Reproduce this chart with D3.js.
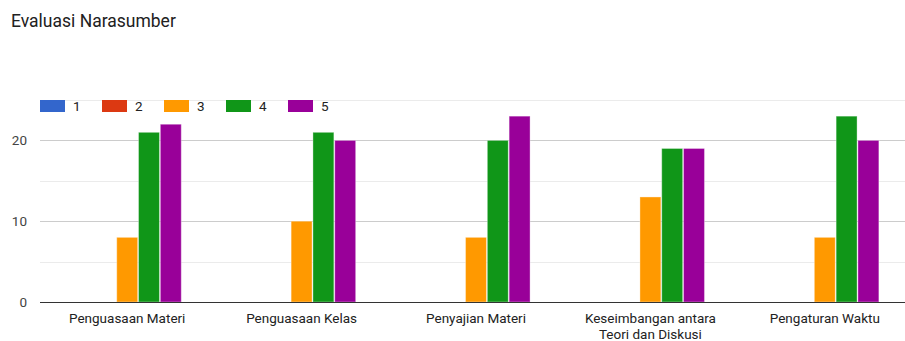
<!DOCTYPE html>
<html>
<head>
<meta charset="utf-8">
<script src="https://cdn.jsdelivr.net/npm/d3@7"></script>
<style>
  body { margin: 0; background: #fff; }
  svg { font-family: Roboto, Arial, sans-serif; }
</style>
</head>
<body>
<div id="chart"></div>
<script>
'use strict';

// Data
const categories = [
    ['Penguasaan Materi'],
    ['Penguasaan Kelas'],
    ['Penyajian Materi'],
    ['Keseimbangan antara', 'Teori dan Diskusi'],
    ['Pengaturan Waktu']
];
const seriesNames = ['1', '2', '3', '4', '5'];
const seriesColors = ['#3366cc', '#dc3912', '#ff9900', '#109618', '#990099'];
const values1 = [0, 0, 0, 0, 0];
const values2 = [0, 0, 0, 0, 0];
const values3 = [8, 10, 8, 13, 8];
const values4 = [21, 21, 20, 19, 23];
const values5 = [22, 20, 23, 19, 20];
const yTicks = [0, 10, 20];
const yGrid = [5, 15, 25];

const seriesValues = [values1, values2, values3, values4, values5];

const w = 905,
      h = 341;
const margin = {top: 100, bottom: 39, left: 40};
const plotRight = 912;   // plot area runs a little past the window edge

const svg = d3.select('#chart').append('svg')
    .attr('width', w)
    .attr('height', h);

// Title
svg.append('text')
    .attr('x', 11)
    .attr('y', 27)
    .attr('font-size', 17.5)
    .attr('fill', '#212121')
    .text('Evaluasi Narasumber');

const x0 = d3.scaleBand()
    .domain(d3.range(categories.length))
    .range([margin.left, plotRight])
    .paddingInner(0.38)
    .paddingOuter(0.19);

const x1 = d3.scaleBand()
    .domain(d3.range(seriesNames.length))
    .range([0, x0.bandwidth()])
    .paddingInner(0.04);

const y = d3.scaleLinear()
    .domain([0, 25])
    .range([h - margin.bottom, margin.top]);

// Gridlines
svg.append('g').selectAll('line.minor')
    .data(yGrid)
    .enter()
    .append('line')
    .attr('x1', margin.left)
    .attr('x2', w)
    .attr('y1', d => Math.round(y(d)) + 0.5)
    .attr('y2', d => Math.round(y(d)) + 0.5)
    .attr('stroke', '#ebebeb');

svg.append('g').selectAll('line.major')
    .data(yTicks.slice(1))
    .enter()
    .append('line')
    .attr('x1', margin.left)
    .attr('x2', w)
    .attr('y1', d => Math.round(y(d)) + 0.5)
    .attr('y2', d => Math.round(y(d)) + 0.5)
    .attr('stroke', '#cccccc');

// Y labels
svg.append('g').selectAll('text')
    .data(yTicks)
    .enter()
    .append('text')
    .attr('x', 27)
    .attr('y', d => y(d) + 5)
    .attr('text-anchor', 'end')
    .attr('font-size', 13.5)
    .attr('fill', '#444')
    .text(d => d);

// Bars
const groups = svg.append('g').selectAll('g')
    .data(categories.map((c, i) => i))
    .enter()
    .append('g')
    .attr('transform', i => `translate(${x0(i)},0)`);

groups.selectAll('rect')
    .data(i => seriesValues.map((vals, s) => ({s: s, v: vals[i]})))
    .enter()
    .filter(d => d.v > 0)
    .append('rect')
    .attr('x', d => x1(d.s))
    .attr('y', d => y(d.v))
    .attr('width', x1.bandwidth())
    .attr('height', d => y(0) - y(d.v))
    .attr('fill', d => seriesColors[d.s])
    .attr('stroke', 'rgba(255,255,255,0.35)')
    .attr('stroke-width', 1);

// Baseline
svg.append('line')
    .attr('x1', margin.left)
    .attr('x2', w)
    .attr('y1', Math.round(y(0)) + 0.5)
    .attr('y2', Math.round(y(0)) + 0.5)
    .attr('stroke', '#333');

// X labels
const xl = svg.append('g').selectAll('text')
    .data(categories)
    .enter()
    .append('text')
    .attr('x', (d, i) => x0(i) + x0.bandwidth() / 2)
    .attr('y', 323)
    .attr('text-anchor', 'middle')
    .attr('font-size', 13.5)
    .attr('fill', '#222');

xl.selectAll('tspan')
    .data(d => d)
    .enter()
    .append('tspan')
    .attr('x', function() { return this.parentNode.getAttribute('x'); })
    .attr('dy', (d, i) => i === 0 ? 0 : 16)
    .text(d => d);

// Legend
const legend = svg.append('g').selectAll('g')
    .data(seriesNames)
    .enter()
    .append('g')
    .attr('transform', (d, i) => `translate(${40 + i * 62},100)`);

legend.append('rect')
    .attr('width', 25)
    .attr('height', 12)
    .attr('fill', (d, i) => seriesColors[i]);

legend.append('text')
    .attr('x', 33)
    .attr('y', 11)
    .attr('font-size', 13.5)
    .attr('fill', '#222')
    .text(d => d);
</script>
</body>
</html>
